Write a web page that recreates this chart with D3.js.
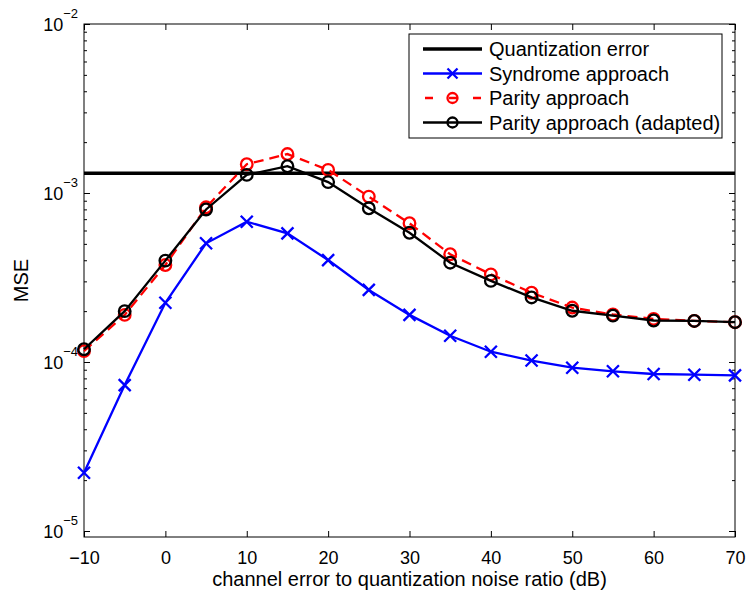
<!DOCTYPE html>
<html>
<head>
<meta charset="utf-8">
<script src="https://cdn.jsdelivr.net/npm/d3@7"></script>
<style>
  body { margin: 0; background: #fff; }
  text { font-family: "Liberation Sans", Arial, Helvetica, sans-serif; fill: #000; }
</style>
</head>
<body>
<div id="chart"></div>
<script>
// channel error to quantization noise ratio (dB)
var snr = [-10, -5, 0, 5, 10, 15, 20, 25, 30, 35, 40, 45, 50, 55, 60, 65, 70];
var quantError = 1.31e-3;
var syndrome = [2.21e-5, 7.3e-5, 2.24e-4, 5.04e-4, 6.76e-4, 5.77e-4, 4.01e-4, 2.67e-4, 1.90e-4,
    1.43e-4, 1.15e-4, 1.02e-4, 9.25e-5, 8.81e-5, 8.49e-5, 8.41e-5, 8.34e-5];
var parity = [1.16e-4, 1.90e-4, 3.75e-4, 8.23e-4, 1.48e-3, 1.70e-3, 1.37e-3, 9.52e-4, 6.62e-4,
    4.34e-4, 3.30e-4, 2.57e-4, 2.10e-4, 1.91e-4, 1.80e-4, 1.75e-4, 1.72e-4];
var parityAdapted = [1.19e-4, 2.0e-4, 3.98e-4, 7.99e-4, 1.28e-3, 1.44e-3, 1.16e-3, 8.12e-4, 5.82e-4,
    3.87e-4, 3.02e-4, 2.41e-4, 2.01e-4, 1.88e-4, 1.76e-4, 1.75e-4, 1.72e-4];
var xTicks = [-10, 0, 10, 20, 30, 40, 50, 60, 70];
var yExponents = [-5, -4, -3, -2];
var legendLabels = ['Quantization error', 'Syndrome approach', 'Parity approach', 'Parity approach (adapted)'];

var svgWidth = 748,
    svgHeight = 590,
    margin = { top: 24, right: 13, bottom: 53, left: 84 },
    width = svgWidth - margin.left - margin.right,
    height = svgHeight - margin.top - margin.bottom;

var svg = d3.select('#chart').append('svg')
    .attr('width', svgWidth)
    .attr('height', svgHeight);

var g = svg.append('g')
    .attr('transform', 'translate(' + margin.left + ',' + margin.top + ')');

var x = d3.scaleLinear().domain([-10, 70]).range([0, width]);
var y = d3.scaleLog().domain([Math.pow(10, -5 - 6 / 169), 1e-2]).range([height, 0]);

var majorY = yExponents.map(function (e) { return Math.pow(10, e); });
var minorY = [];
yExponents.forEach(function (e) {
    for (var k = 2; k <= 9; k++) {
        var v = k * Math.pow(10, e);
        if (v <= 1e-2) minorY.push(v);
    }
});

// ticks pointing inward, box all around
function tickStyle(sel) {
    sel.select('.domain').remove();
    sel.selectAll('line').attr('stroke', '#000').attr('stroke-width', 1);
}

g.append('g')
    .attr('transform', 'translate(0,' + height + ')')
    .call(d3.axisBottom(x).tickValues(xTicks).tickSize(-6).tickPadding(14)
        .tickFormat(function (d) { return d < 0 ? '\u2212' + Math.abs(d) : d; }))
    .call(tickStyle)
    .call(function (s) {
        s.selectAll('text').attr('font-size', 18).attr('fill', '#000')
            .attr('font-family', '"Liberation Sans", Arial, sans-serif');
    });

g.append('g')
    .call(d3.axisTop(x).tickValues(xTicks).tickSize(-6).tickFormat(''))
    .call(tickStyle);

g.append('g')
    .call(d3.axisLeft(y).tickValues(majorY).tickSize(-6).tickFormat(''))
    .call(tickStyle);
g.append('g')
    .call(d3.axisLeft(y).tickValues(minorY).tickSize(-3).tickFormat(''))
    .call(tickStyle);
g.append('g')
    .attr('transform', 'translate(' + width + ',0)')
    .call(d3.axisRight(y).tickValues(majorY).tickSize(-6).tickFormat(''))
    .call(tickStyle);
g.append('g')
    .attr('transform', 'translate(' + width + ',0)')
    .call(d3.axisRight(y).tickValues(minorY).tickSize(-3).tickFormat(''))
    .call(tickStyle);

// y tick labels 10^e
var yLab = g.append('g').selectAll('text.ylab')
    .data(yExponents)
    .enter().append('text')
    .attr('class', 'ylab')
    .attr('x', -6)
    .attr('y', function (d) { return y(Math.pow(10, d)) + 7; })
    .attr('text-anchor', 'end')
    .attr('font-size', 18);
yLab.append('tspan').text('10');
yLab.append('tspan')
    .attr('dy', -13)
    .attr('font-size', 13)
    .text(function (d) { return '\u2212' + Math.abs(d); });

g.append('rect')
    .attr('width', width)
    .attr('height', height)
    .attr('fill', 'none')
    .attr('stroke', '#000')
    .attr('stroke-width', 1);

var line = d3.line()
    .x(function (d, i) { return x(snr[i]); })
    .y(function (d) { return y(d); });

var plot = g.append('g');

// quantization error
plot.append('line')
    .attr('x1', 0).attr('x2', width)
    .attr('y1', y(quantError)).attr('y2', y(quantError))
    .attr('stroke', '#000')
    .attr('stroke-width', 3.5);

function crossPath(cx, cy, r) {
    return 'M' + (cx - r) + ',' + (cy - r) + 'L' + (cx + r) + ',' + (cy + r) +
        'M' + (cx - r) + ',' + (cy + r) + 'L' + (cx + r) + ',' + (cy - r);
}

// syndrome approach
plot.append('path')
    .datum(syndrome)
    .attr('d', line)
    .attr('fill', 'none')
    .attr('stroke', '#0000ff')
    .attr('stroke-width', 2.3);
plot.selectAll('path.xm')
    .data(syndrome)
    .enter().append('path')
    .attr('class', 'xm')
    .attr('d', function (d, i) { return crossPath(x(snr[i]), y(d), 6); })
    .attr('stroke', '#0000ff')
    .attr('stroke-width', 2.3);

// parity approach
plot.append('path')
    .datum(parity)
    .attr('d', line)
    .attr('fill', 'none')
    .attr('stroke', '#ff0000')
    .attr('stroke-width', 2.3)
    .attr('stroke-dasharray', '10,6');
plot.selectAll('circle.pm')
    .data(parity)
    .enter().append('circle')
    .attr('class', 'pm')
    .attr('cx', function (d, i) { return x(snr[i]); })
    .attr('cy', function (d) { return y(d); })
    .attr('r', 5.8)
    .attr('fill', 'none')
    .attr('stroke', '#ff0000')
    .attr('stroke-width', 2.3);

// parity approach (adapted)
plot.append('path')
    .datum(parityAdapted)
    .attr('d', line)
    .attr('fill', 'none')
    .attr('stroke', '#000')
    .attr('stroke-width', 2.3);
plot.selectAll('circle.am')
    .data(parityAdapted)
    .enter().append('circle')
    .attr('class', 'am')
    .attr('cx', function (d, i) { return x(snr[i]); })
    .attr('cy', function (d) { return y(d); })
    .attr('r', 5.8)
    .attr('fill', 'none')
    .attr('stroke', '#000')
    .attr('stroke-width', 2.3);

// axis labels
svg.append('text')
    .attr('x', margin.left + width / 2)
    .attr('y', 586)
    .attr('text-anchor', 'middle')
    .attr('font-size', 20)
    .text('channel error to quantization noise ratio (dB)');

svg.append('text')
    .attr('transform', 'translate(28,' + (margin.top + height / 2) + ') rotate(-90)')
    .attr('text-anchor', 'middle')
    .attr('font-size', 20)
    .text('MSE');

// legend
var legend = svg.append('g').attr('transform', 'translate(409,34)');
legend.append('rect')
    .attr('width', 313)
    .attr('height', 104)
    .attr('fill', '#fff')
    .attr('stroke', '#000')
    .attr('stroke-width', 1);

var legendStyles = [
    { color: '#000', dash: null, marker: 'none', width: 3.5 },
    { color: '#0000ff', dash: null, marker: 'x', width: 2.3 },
    { color: '#ff0000', dash: '10,6', marker: 'o', width: 2.3 },
    { color: '#000', dash: null, marker: 'o', width: 2.3 }
];

legendLabels.forEach(function (label, i) {
    var st = legendStyles[i];
    var cy = 15 + i * 24.5;
    var row = legend.append('g');
    row.append('line')
        .attr('x1', 14).attr('x2', 73)
        .attr('y1', cy).attr('y2', cy)
        .attr('stroke', st.color)
        .attr('stroke-width', st.width)
        .attr('stroke-dasharray', st.dash ? '8,16' : null)
        .attr('stroke-dashoffset', st.dash ? -2 : null);
    if (st.marker === 'x') {
        row.append('path')
            .attr('d', crossPath(43.5, cy, 5))
            .attr('stroke', st.color)
            .attr('stroke-width', st.width);
    } else if (st.marker === 'o') {
        row.append('circle')
            .attr('cx', 43.5).attr('cy', cy).attr('r', 5)
            .attr('fill', 'none')
            .attr('stroke', st.color)
            .attr('stroke-width', st.width);
    }
    row.append('text')
        .attr('x', 80)
        .attr('y', cy + 7)
        .attr('font-size', 20)
        .text(label);
});
</script>
</body>
</html>
